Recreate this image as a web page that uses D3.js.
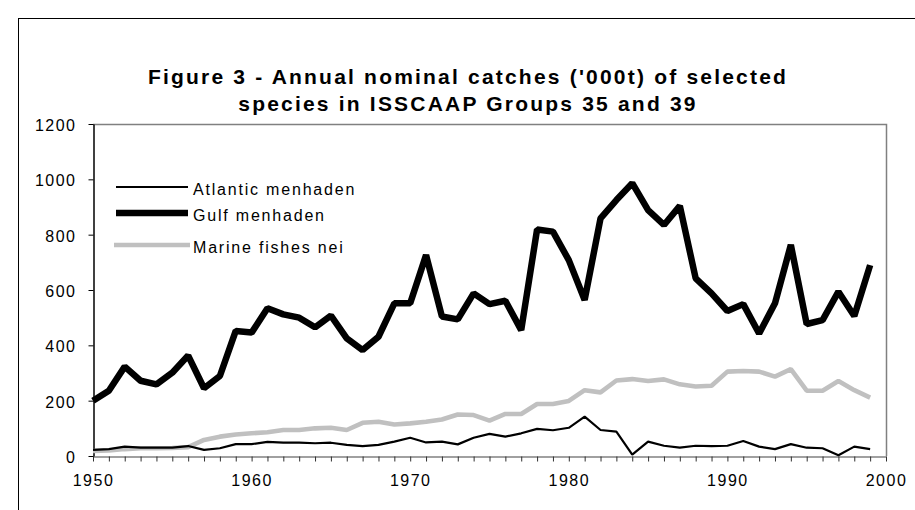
<!DOCTYPE html>
<html>
<head>
<meta charset="utf-8">
<script src="https://cdn.jsdelivr.net/npm/d3@7"></script>
<style>
    html, body { margin: 0; padding: 0; background: #fff; }
    svg { display: block; }
    text { font-family: "Liberation Sans", Arial, sans-serif; fill: #000; }
</style>
</head>
<body>
<div id="viz"></div>
<script>
// Chart data ('000 t)
const years = [
    1950, 1951, 1952, 1953, 1954, 1955, 1956, 1957, 1958, 1959,
    1960, 1961, 1962, 1963, 1964, 1965, 1966, 1967, 1968, 1969,
    1970, 1971, 1972, 1973, 1974, 1975, 1976, 1977, 1978, 1979,
    1980, 1981, 1982, 1983, 1984, 1985, 1986, 1987, 1988, 1989,
    1990, 1991, 1992, 1993, 1994, 1995, 1996, 1997, 1998, 1999
];
const atlanticMenhaden = [
    22, 25, 34, 30, 30, 30, 36, 22, 28, 43,
    43, 51, 48, 48, 46, 48, 40, 36, 40, 52,
    66, 49, 52, 42, 66, 80, 70, 82, 98, 93,
    102, 142, 94, 88, 5, 52, 37, 30, 37, 36,
    37, 54, 34, 25, 43, 30, 28, 3, 34, 25
];
const gulfMenhaden = [
    200, 236, 323, 272, 259, 301, 363, 245, 289, 452,
    446, 534, 512, 500, 465, 507, 425, 383, 431, 552,
    552, 726, 504, 494, 588, 549, 561, 455, 819, 811,
    708, 564, 859, 925, 986, 889, 835, 904, 642, 588,
    524, 549, 443, 552, 763, 477, 491, 594, 506, 690
];
const marineFishesNei = [
    18, 20, 25, 28, 28, 29, 32, 58, 70, 78,
    82, 86, 94, 94, 100, 102, 94, 120, 124, 114,
    118, 124, 132, 150, 148, 128, 152, 152, 188, 188,
    199, 238, 230, 273, 278, 271, 277, 259, 251, 254,
    305, 307, 305, 287, 314, 236, 236, 271, 238, 211
];
const seriesNames = ["Atlantic menhaden", "Gulf menhaden", "Marine fishes nei"];
const yTicks = [0, 200, 400, 600, 800, 1000, 1200];
const xLabels = [1950, 1960, 1970, 1980, 1990, 2000];
const titleLines = [
    "Figure 3 - Annual nominal catches ('000t) of selected",
    "species in ISSCAAP Groups 35 and 39"
];

const dims = { width: 915, height: 510, left: 93, right: 886, top: 124, bottom: 456 };

const series = [
    { name: seriesNames[0], values: atlanticMenhaden, color: "#000000", width: 2.2 },
    { name: seriesNames[1], values: gulfMenhaden, color: "#000000", width: 6.5 },
    { name: seriesNames[2], values: marineFishesNei, color: "#c0c0c0", width: 4.6 }
];

const svg = d3.select("#viz")
    .append("svg")
    .attr("width", dims.width)
    .attr("height", dims.height);

// chart area border (runs off the right / bottom edge)
svg.append("rect")
    .attr("x", 18.5).attr("y", 18.5)
    .attr("width", 1000).attr("height", 1000)
    .style("fill", "none")
    .style("stroke", "#000")
    .style("stroke-width", 1);

// Title
svg.append("g")
    .selectAll("text")
    .data(titleLines)
    .join("text")
    .attr("x", 468)
    .attr("y", (d, i) => 84 + i * 27)
    .attr("text-anchor", "middle")
    .style("font-size", "21px")
    .style("font-weight", "bold")
    .style("letter-spacing", "2.2px")
    .text(d => d);

const xScale = d3.scaleLinear().domain([1950, 2000]).range([dims.left, dims.right]);
const yScale = d3.scaleLinear().domain([0, 1200]).range([dims.bottom, dims.top]);

// plot area border, top and right
svg.append("path")
    .attr("d", `M${dims.left},${dims.top + 0.5}H${dims.right + 0.5}V${dims.bottom}`)
    .style("fill", "none")
    .style("stroke", "#808080")
    .style("stroke-width", 1.5);

// x axis: one tick per year, labels every ten
const xAxis = svg.append("g")
    .attr("transform", `translate(0,${dims.bottom + 0.5})`)
    .call(d3.axisBottom(xScale)
        .tickValues(years.concat([2000]))
        .tickSize(5)
        .tickSizeOuter(0)
        .tickFormat(d => xLabels.includes(d) ? d : ""));
xAxis.select(".domain").style("stroke", "#808080").style("stroke-width", 1.5);
xAxis.selectAll(".tick line").style("stroke", "#303030");
xAxis.selectAll(".tick text")
    .attr("y", 18)
    .attr("dy", "0.71em")
    .style("font-family", "'Liberation Sans', Arial, sans-serif")
    .style("font-size", "16px")
    .style("letter-spacing", "1.5px")
    .style("fill", "#000");

// y axis
const yAxis = svg.append("g")
    .attr("transform", `translate(${dims.left + 0.5},0)`)
    .call(d3.axisLeft(yScale)
        .tickValues(yTicks)
        .tickSize(5)
        .tickSizeOuter(0)
        .tickPadding(12)
        .tickFormat(d3.format("d")));
yAxis.select(".domain").style("stroke", "#000").style("stroke-width", 1.5);
yAxis.selectAll(".tick line").style("stroke", "#000");
yAxis.selectAll(".tick text")
    .attr("dy", "0.4em")
    .style("font-family", "'Liberation Sans', Arial, sans-serif")
    .style("font-size", "16px")
    .style("letter-spacing", "1.5px")
    .style("fill", "#000");

// Series lines, drawn grey first so the black ones sit on top
const line = d3.line()
    .x((d, i) => xScale(years[i]))
    .y(d => yScale(d));

svg.append("g")
    .selectAll("path")
    .data([series[2], series[0], series[1]])
    .join("path")
    .attr("d", d => line(d.values))
    .style("fill", "none")
    .style("stroke", d => d.color)
    .style("stroke-width", d => d.width)
    .style("stroke-linejoin", "bevel");

// Legend
const legendRows = [187, 213, 245];
const legend = svg.append("g").attr("class", "legend");

legend.selectAll("line")
    .data(series)
    .join("line")
    .attr("x1", (d, i) => i == 2 ? 114 : 116)
    .attr("x2", (d, i) => i == 2 ? 190 : 188)
    .attr("y1", (d, i) => legendRows[i])
    .attr("y2", (d, i) => legendRows[i])
    .style("stroke", d => d.color)
    .style("stroke-width", d => d.width);

legend.selectAll("text")
    .data(series)
    .join("text")
    .attr("x", 193)
    .attr("y", (d, i) => legendRows[i] + 8)
    .style("font-size", "16px")
    .style("letter-spacing", "1.8px")
    .text(d => d.name);
</script>
</body>
</html>
